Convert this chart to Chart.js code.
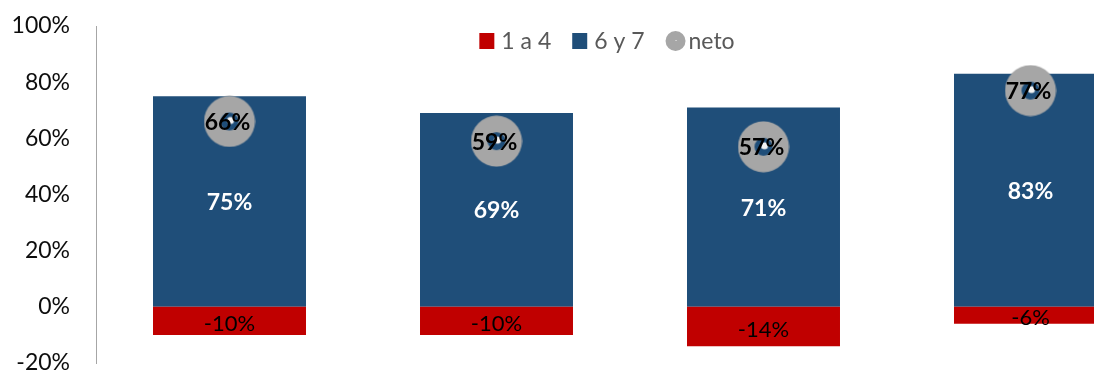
<!DOCTYPE html>
<html>
<head>
<meta charset="utf-8">
<script src="https://cdn.jsdelivr.net/npm/chart.js@4/dist/chart.umd.min.js"></script>
<style>
  html, body { margin: 0; padding: 0; background: #fff; overflow: hidden; }
  #marc { position: relative; width: 1170px; height: 373px; }
</style>
</head>
<body>
<div id="marc"><canvas id="grafic"></canvas></div>
<script>
// Dades del gràfic (percentatges)
const categories = ['G1', 'G2', 'G3', 'G4'];
const valors1a4 = [-10, -10, -14, -6];
const valors6y7 = [75, 69, 71, 83];
const valorsNeto = [66, 59, 57, 77];
const etiquetesY = [-20, 0, 20, 40, 60, 80, 100];

const VERMELL = '#c00000';
const BLAU = '#1f4e79';
const GRIS = '#a6a6a6';
const FONT = 'Lato, Calibri, "Open Sans", sans-serif';

// Marcador de "neto": anell gris amb un puntet blanc al mig
const fesMarcador = () => {
    const c = document.createElement('canvas');
    c.width = 52; c.height = 52;
    const g = c.getContext('2d');
    g.fillStyle = GRIS;
    g.beginPath();
    g.arc(26, 26, 25.5, 0, Math.PI * 2);
    g.arc(26, 26, 9, 0, Math.PI * 2, true);
    g.fill('evenodd');
    g.fillStyle = '#f2f2f2';
    g.beginPath();
    g.arc(27, 25, 3.5, 0, Math.PI * 2);
    g.fill();
    return c;
};

// Llegenda pròpia, dibuixada per sobre de l'àrea del gràfic
const llegenda = {
    id: 'llegenda',
    afterDraw(chart) {
        const ctx = chart.ctx;
        ctx.save();
        ctx.font = '23px ' + FONT;
        ctx.textBaseline = 'middle';
        ctx.textAlign = 'left';
        const items = [
            { text: '1 a 4', color: VERMELL, tipus: 'quadre' },
            { text: '6 y 7', color: BLAU, tipus: 'quadre' },
            { text: 'neto', color: GRIS, tipus: 'cercle' }
        ];
        const ample = items.map(it => (it.tipus === 'quadre' ? 22 : 23) + ctx.measureText(it.text).width);
        const total = ample.reduce((a, b) => a + b, 0) + 21 * (items.length - 1);
        let x = 607 - total / 2;
        const y = 41;
        items.forEach((it, i) => {
            ctx.fillStyle = it.color;
            if (it.tipus === 'quadre') {
                ctx.fillRect(x, y - 8, 15, 16);
                ctx.fillStyle = '#595959';
                ctx.fillText(it.text, x + 22, y + 1);
            } else {
                ctx.beginPath();
                ctx.arc(x + 10, y, 10, 0, Math.PI * 2);
                ctx.fill();
                ctx.fillStyle = '#f2f2f2';
                ctx.fillRect(x + 10, y - 1, 1, 1);
                ctx.fillStyle = '#595959';
                ctx.fillText(it.text, x + 23, y + 1);
            }
            x += ample[i] + 21;
        });
        ctx.restore();
    }
};

// Etiquetes de valor sobre les barres i els punts
const etiquetes = {
    id: 'etiquetes',
    afterDatasetsDraw(chart) {
        const ctx = chart.ctx;
        ctx.save();
        ctx.textAlign = 'center';
        ctx.textBaseline = 'middle';
        chart.data.datasets.forEach((ds, i) => {
            const meta = chart.getDatasetMeta(i);
            meta.data.forEach((el, j) => {
                const v = ds.data[j];
                if (ds.type === 'line') {
                    ctx.font = 'bold 23px ' + FONT;
                    ctx.fillStyle = '#000';
                    ctx.fillText(v + '%', el.x - 2, el.y + 1);
                } else if (v < 0) {
                    ctx.font = '22px ' + FONT;
                    ctx.fillStyle = '#000';
                    ctx.fillText(v + '%', el.x, (el.y + el.base) / 2 + 3);
                } else {
                    ctx.font = 'bold 23px ' + FONT;
                    ctx.fillStyle = '#fff';
                    ctx.fillText(v + '%', el.x, (el.y + el.base) / 2 + 1);
                }
            });
        });
        ctx.restore();
    }
};

new Chart(document.getElementById('grafic'), {
    data: {
        labels: categories,
        datasets: [
            {
                type: 'line',
                label: 'neto',
                data: valorsNeto,
                stack: 'neto',
                showLine: false,
                pointStyle: fesMarcador(),
                order: 0
            },
            {
                type: 'bar',
                label: '1 a 4',
                data: valors1a4,
                backgroundColor: VERMELL,
                stack: 'barres',
                order: 1
            },
            {
                type: 'bar',
                label: '6 y 7',
                data: valors6y7,
                backgroundColor: BLAU,
                stack: 'barres',
                order: 1
            }
        ]
    },
    options: {
        responsive: true,
        maintainAspectRatio: false,
        devicePixelRatio: 1,
        animation: false,
        barPercentage: 0.573,
        categoryPercentage: 1,
        layout: { padding: { top: 26, right: 6, bottom: 10, left: 0 } },
        plugins: {
            legend: { display: false },
            tooltip: { enabled: false }
        },
        scales: {
            x: {
                display: false,
                stacked: true
            },
            y: {
                stacked: true,
                min: -20,
                max: 100,
                afterFit(scale) {
                    scale.width = 96;
                    scale.paddingTop = 0;
                    scale.paddingBottom = 0;
                },
                afterBuildTicks(scale) {
                    scale.ticks = etiquetesY.map(v => ({ value: v }));
                },
                grid: { display: false, drawTicks: false },
                border: { display: true, color: GRIS, width: 1 },
                ticks: {
                    padding: 26,
                    color: '#0d0d0d',
                    font: { family: FONT, size: 23 },
                    callback: (v) => v + '%'
                }
            }
        }
    },
    plugins: [etiquetes, llegenda]
});
</script>
</body>
</html>
